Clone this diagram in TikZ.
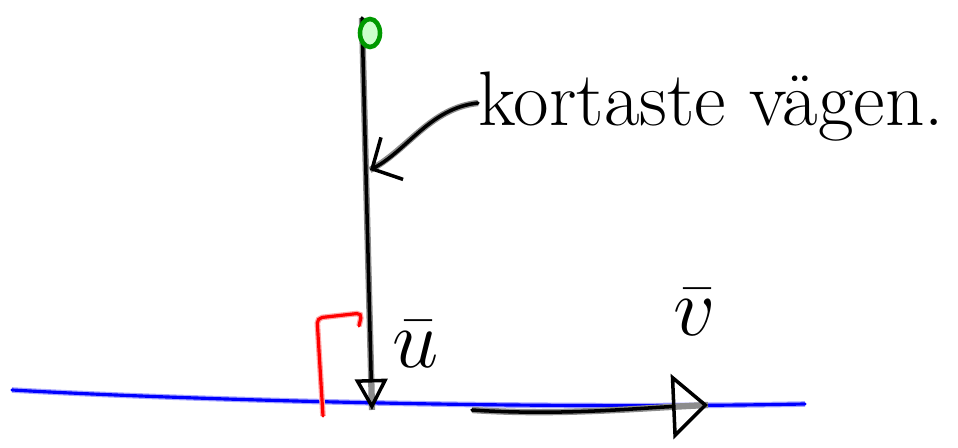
\documentclass[tikz,border=0pt]{standalone}
\usepackage{graphicx}
\usepackage{tikz}
\usetikzlibrary{arrows.meta, positioning, calc, shapes.geometric}
\tikzset{
  ink/.style={draw=black, line width=2pt, line cap=round, line join=round,
    preaction={draw=black!45, line width=3.6pt, arrows=-}},
  vec/.style={ink, -{Triangle[open, length=#1]}},
  pointer/.style={ink, -{Straight Barb[length=0.45cm, width=0.95cm]}},
  ground/.style={draw=blue, line width=1.8pt, line cap=round,
    preaction={draw=blue!35, line width=3.2pt}},
  rightangle/.style={draw=red, line width=1.8pt, line cap=round, rounded corners=3pt,
    preaction={draw=red!35, line width=3.2pt}},
  bigtext/.style={font=\fontsize{44}{52}\selectfont, inner sep=0pt},
  veclabel/.style={font=\Huge, inner sep=0pt},
}
\newcommand{\biglabel}[1]{\scalebox{1.9}{$\bar{#1}$}}
\begin{document}
\begin{tikzpicture}[x=0.02cm, y=-0.02cm]
    \useasboundingbox (0,0) rectangle (958,448);
    % ground line
    \coordinate (gl) at (12,390);
    \coordinate (gr) at (805,404);
    \draw[ground] (gl) .. controls (150,398) and (500,410) .. (gr);
    % right angle mark
    \coordinate (ra1) at (323,416);
    \coordinate (ra2) at (317,318);
    \coordinate (ra3) at (362,313);
    \coordinate (ra4) at (359,326);
    \draw[rightangle] (ra1) -- (ra2) -- (ra3) -- (ra4);
    % the two vectors
    \coordinate (top) at (362,18);
    \coordinate (foot) at (372,410);
    \draw[vec={0.62cm, width=0.65cm}] (top) -- (foot);
    \node[ellipse, draw=green!60!black, line width=2.6pt, fill=green!20,
      minimum width=0.4cm, minimum height=0.56cm, inner sep=0pt] (start) at (370,33) {};
    \coordinate (vs) at (472,410);
    \coordinate (ve) at (708,405);
    \draw[vec={0.72cm, width=1.3cm}] (vs) .. controls (560,416) and (640,408) .. (ve);
    % labels
    \node[veclabel] (u) at (416,344) {\biglabel{u}};
    \node[veclabel] (v) at (695,312) {\biglabel{v}};
    \node[bigtext, anchor=base west] (path) at (478,126) {kortaste vägen.};
    \coordinate (hit) at (370,170);
    \draw[pointer] (path.west |- 0,103) .. controls (430,108) and (408,150) .. (hit);
\end{tikzpicture}
\end{document}
